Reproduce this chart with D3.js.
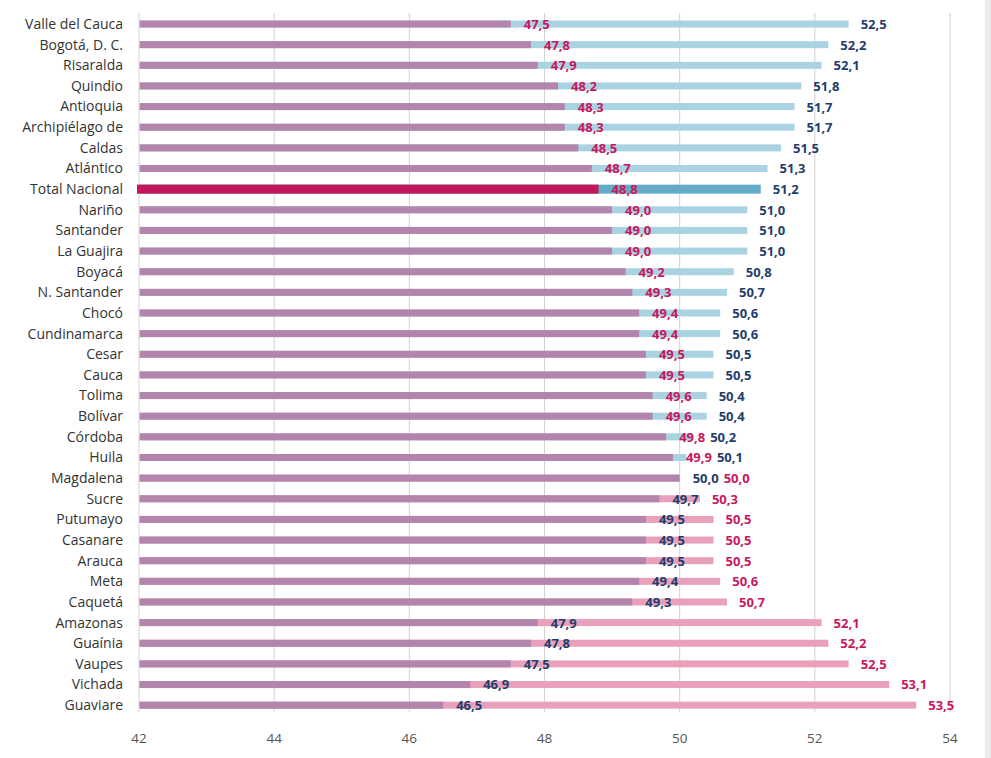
<!DOCTYPE html>
<html>
<head>
<meta charset="utf-8">
<script src="https://cdn.jsdelivr.net/npm/d3@7"></script>
<style>
  body { margin: 0; background: #fff; }
  svg { display: block; }
</style>
</head>
<body>
<div id="chart"></div>
<script>
// Departamentos, ordered as in the chart
const categories = [
    'Valle del Cauca', 'Bogotá, D. C.', 'Risaralda', 'Quindio', 'Antioquia',
    'Archipiélago de ', 'Caldas', 'Atlántico', 'Total Nacional', 'Nariño',
    'Santander', 'La Guajira', 'Boyacá', 'N. Santander', 'Chocó',
    'Cundinamarca', 'Cesar', 'Cauca', 'Tolima', 'Bolívar',
    'Córdoba', 'Huila', 'Magdalena', 'Sucre', 'Putumayo',
    'Casanare', 'Arauca', 'Meta', 'Caquetá', 'Amazonas',
    'Guaínia', 'Vaupes', 'Vichada', 'Guaviare'
];

// % hombres
const hombres = [
    47.5, 47.8, 47.9, 48.2, 48.3, 48.3, 48.5, 48.7, 48.8, 49.0,
    49.0, 49.0, 49.2, 49.3, 49.4, 49.4, 49.5, 49.5, 49.6, 49.6,
    49.8, 49.9, 50.0, 50.3, 50.5, 50.5, 50.5, 50.6, 50.7, 52.1,
    52.2, 52.5, 53.1, 53.5
];

// % mujeres
const mujeres = [
    52.5, 52.2, 52.1, 51.8, 51.7, 51.7, 51.5, 51.3, 51.2, 51.0,
    51.0, 51.0, 50.8, 50.7, 50.6, 50.6, 50.5, 50.5, 50.4, 50.4,
    50.2, 50.1, 50.0, 49.7, 49.5, 49.5, 49.5, 49.4, 49.3, 47.9,
    47.8, 47.5, 46.9, 46.5
];

const ticks = [42, 44, 46, 48, 50, 52, 54];

const width = 991,
    height = 758,
    total = 'Total Nacional';

const rows = categories.map((c, i) => {
    const h = hombres[i], m = mujeres[i];
    const menSmall = h < m;
    return {
        name: c,
        h, m,
        small: Math.min(h, m),
        big: Math.max(h, m),
        smallColor: menSmall ? '#c8175d' : '#1f3d6b',
        bigColor: menSmall ? '#1f3d6b' : '#c8175d',
        barColor: menSmall ? '#a9d3e3' : '#e8a0bd'
    };
});

const x = d3.scaleLinear().domain([42, 54]).range([139, 950]);
const y = d3.scaleBand().domain(categories).range([13.7, 715.5]);
const barH = 7;
const fmt = v => d3.format('.1f')(v).replace('.', ',');

const svg = d3.select('#chart')
    .append('svg')
    .attr('width', width)
    .attr('height', height)
    .style('font-family', '"Open Sans", sans-serif');

// grey strip on the right edge
svg.append('rect')
    .attr('x', 985).attr('y', 0)
    .attr('width', 6).attr('height', height)
    .attr('fill', '#ececec');

// gridlines + tick labels
const grid = svg.append('g');
grid.selectAll('line')
    .data(ticks)
    .join('line')
    .attr('x1', d => x(d)).attr('x2', d => x(d))
    .attr('y1', 13).attr('y2', 712)
    .attr('stroke', '#d2d2d2')
    .attr('stroke-width', 1);
grid.selectAll('text')
    .data(ticks)
    .join('text')
    .attr('x', d => x(d))
    .attr('y', 743)
    .attr('text-anchor', 'middle')
    .attr('fill', '#555')
    .style('font-size', '13.5px')
    .text(d => d);

// category labels
svg.append('g')
    .selectAll('text')
    .data(rows)
    .join('text')
    .attr('x', 123)
    .attr('y', d => y(d.name) + y.bandwidth() / 2)
    .attr('dy', '0.35em')
    .attr('text-anchor', 'end')
    .attr('fill', '#333')
    .style('font-size', '14px')
    .text(d => d.name);

const row = svg.append('g')
    .selectAll('g')
    .data(rows)
    .join('g')
    .attr('transform', d => `translate(0,${y(d.name) + y.bandwidth() / 2})`);

// longer bar (behind)
row.append('rect')
    .attr('x', d => x(42))
    .attr('y', d => d.name === total ? -4.5 : -barH / 2)
    .attr('height', d => d.name === total ? 9 : barH)
    .attr('width', d => x(d.big) - x(42))
    .attr('fill', d => d.name === total ? '#64abc8' : d.barColor);

// shorter bar (front, purple)
row.append('rect')
    .attr('x', d => d.name === total ? x(42) - 2 : x(42) + 1)
    .attr('y', d => d.name === total ? -4.5 : -barH / 2)
    .attr('height', d => d.name === total ? 9 : barH)
    .attr('width', d => x(d.small) - x(42) + (d.name === total ? 2 : -1))
    .attr('fill', d => d.name === total ? '#c2185b' : '#b385ad');

// value labels
row.append('text')
    .attr('class', 'lbl-small')
    .attr('x', d => x(d.small) + 13)
    .attr('dy', '0.38em')
    .attr('fill', d => d.smallColor)
    .style('font-size', '13px')
    .style('font-weight', 'bold')
    .text(d => fmt(d.small));

row.append('text')
    .attr('dy', '0.38em')
    .attr('fill', d => d.bigColor)
    .style('font-size', '13px')
    .style('font-weight', 'bold')
    .text(d => fmt(d.big))
    .attr('x', function(d) {
        const s = d3.select(this.parentNode).select('.lbl-small').node();
        const sEnd = +s.getAttribute('x') + s.getComputedTextLength();
        return Math.max(x(d.big) + 12, sEnd + 5);
    });
</script>
</body>
</html>
